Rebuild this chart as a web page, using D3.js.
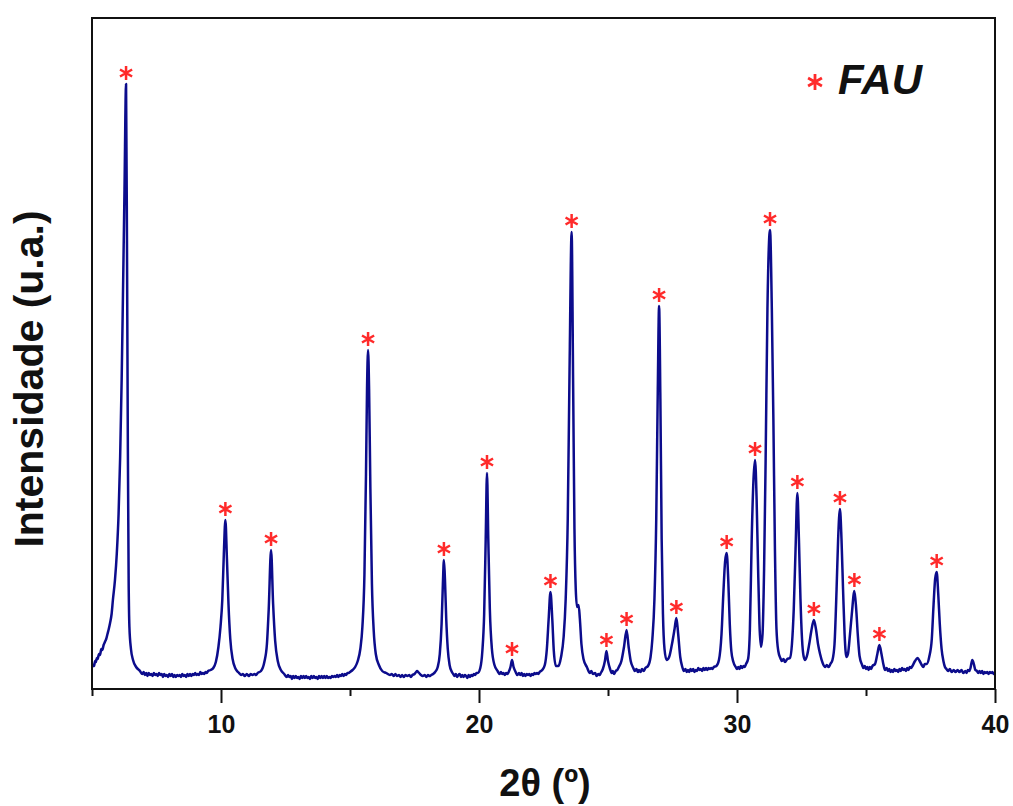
<!DOCTYPE html>
<html>
<head>
<meta charset="utf-8">
<script src="https://cdn.jsdelivr.net/npm/d3@7"></script>
<style>
  html, body { margin: 0; padding: 0; background: #fff; }
  svg { display: block; }
  text { font-family: "Liberation Sans", Arial, sans-serif; }
</style>
</head>
<body>
<svg id="chart" width="1013" height="806"></svg>
<script>
// ---- data (2θ in degrees, intensity in arbitrary units) ----
const pattern = [
[5.00,22],[5.04,24],[5.08,23],[5.12,28],[5.15,27],[5.19,31],[5.22,30],[5.27,35],[5.31,34],[5.36,40],[5.40,39],[5.45,44],[5.50,47],[5.55,50],[5.60,55],[5.65,60],[5.70,66],[5.76,75],[5.81,89],[5.89,109],[5.96,135],[6.03,175],[6.09,231],[6.15,310],[6.20,394],[6.26,500],[6.32,605],[6.36,420],[6.39,240],[6.42,110],[6.45,62],[6.51,40],[6.59,29],[6.71,22],[6.86,18],
[6.95,15],[7.0,17],[7.05,14],[7.1,16],[7.15,13],[7.2,16],[7.25,14],[7.3,15],[7.35,13],[7.4,16],[7.45,14],[7.5,15],[7.55,13],[7.6,16],[7.65,14],[7.7,15],[7.75,12],[7.8,15],[7.85,13],[7.9,14],[7.95,12],[8.0,15],[8.05,13],[8.1,15],[8.15,12],[8.2,14],[8.25,12],[8.3,14],[8.35,13],[8.4,14],[8.45,12],[8.5,15],[8.55,13],[8.6,14],[8.65,12],[8.7,15],[8.75,13],[8.8,15],[8.85,13],[8.9,15],[8.95,14],[9.0,16],[9.05,14],[9.1,15],[9.15,14],[9.2,17],[9.25,15],[9.3,16],[9.35,15],[9.4,17],[9.45,16],[9.5,18],
[9.6,19],[9.7,21],[9.8,27],[9.9,42],[9.98,62],[10.05,89],[10.11,135],[10.17,169],[10.23,130],[10.29,85],[10.36,50],[10.45,30],[10.55,21],[10.62,18],[10.7,16],[10.78,14],[10.85,15],[10.92,13],[11.0,15],[11.08,13],[11.15,15],[11.22,14],[11.3,15],[11.36,14],[11.42,16],
[11.55,18],[11.68,27],[11.78,45],[11.85,80],[11.94,139],[12.02,85],[12.1,48],[12.2,28],[12.32,19],[12.45,15],
[12.55,12],[12.6,14],[12.65,12],[12.7,13],[12.75,10],[12.8,13],[12.85,11],[12.9,13],[12.95,11],[13.0,12],[13.05,10],[13.1,13],[13.15,11],[13.2,13],[13.25,11],[13.3,13],[13.35,11],[13.4,12],[13.45,10],[13.5,13],[13.55,11],[13.6,13],[13.65,11],[13.7,12],[13.75,10],[13.8,13],[13.85,11],[13.9,13],[13.95,11],[14.0,13],[14.05,11],[14.1,13],[14.15,11],[14.2,12],[14.25,11],[14.3,13],[14.35,12],[14.4,13],[14.45,12],[14.5,14],[14.55,12],[14.6,14],[14.65,13],[14.7,15],[14.75,13],[14.8,15],[14.85,14],[14.9,16],[14.95,16],[15.0,17],
[15.1,19],[15.2,22],[15.3,28],[15.4,40],[15.48,62],[15.56,115],[15.62,215],[15.66,300],[15.70,339],[15.74,300],[15.79,200],[15.85,105],[15.92,58],[16.0,35],[16.12,24],[16.25,18],[16.4,16],[16.55,14],
[16.62,15],[16.7,13],[16.76,15],[16.82,13],[16.9,14],[16.96,12],[17.02,14],[17.08,12],[17.15,14],[17.22,13],[17.3,14],[17.36,12],[17.42,14],[17.5,15],[17.56,17],[17.6,18],[17.64,17],[17.68,16],[17.75,14],[17.82,13],[17.9,14],[17.96,12],[18.02,14],[18.08,13],[18.15,14],[18.22,15],
[18.3,17],[18.4,22],[18.48,35],[18.55,65],[18.6,105],[18.64,129],[18.68,110],[18.73,70],[18.79,40],[18.86,24],[18.95,17],[19.0,15],[19.05,13],[19.1,15],[19.15,12],[19.2,14],[19.25,15],[19.3,12],[19.35,14],[19.4,12],[19.45,14],[19.5,13],[19.55,11],[19.6,14],[19.65,12],[19.7,14],[19.75,13],[19.8,15],[19.85,14],[19.9,16],
[19.95,16],[20.05,21],[20.13,38],[20.2,75],[20.26,150],[20.31,216],[20.36,150],[20.42,80],[20.5,40],[20.6,24],[20.72,18],[20.8,15],[20.85,17],[20.9,15],[20.95,16],[21.0,14],[21.05,16],[21.1,15],[21.15,17],[21.22,22],[21.28,29],[21.34,22],[21.42,17],[21.48,14],[21.55,16],[21.6,14],[21.65,16],[21.7,13],[21.75,15],[21.8,13],[21.85,15],[21.9,14],[21.95,15],[22.0,13],[22.05,15],[22.1,14],[22.15,16],[22.2,15],[22.25,16],[22.3,15],[22.35,17],
[22.45,19],[22.55,24],[22.63,40],[22.7,70],[22.77,97],[22.84,70],[22.9,38],[22.98,23],[23.08,23],[23.18,32],[23.28,52],[23.36,90],[23.44,170],[23.51,320],[23.59,457],[23.65,300],[23.7,160],[23.75,100],[23.8,82],[23.86,84],[23.91,70],[23.97,45],[24.05,30],[24.18,22],[24.3,16],[24.35,18],[24.42,15],[24.5,16],[24.56,13],[24.62,15],[24.68,14],[24.72,16],
[24.8,20],[24.88,28],[24.94,38],[25.0,28],[25.08,20],[25.14,16],[25.18,18],[25.24,15],[25.3,18],[25.36,19],[25.42,22],[25.52,28],[25.62,42],[25.72,59],[25.8,42],[25.88,28],[25.98,21],[26.04,18],[26.1,20],[26.16,17],[26.2,19],[26.26,17],[26.32,20],[26.38,18],[26.45,21],
[26.55,23],[26.65,32],[26.72,50],[26.8,90],[26.87,170],[26.93,300],[26.98,383],[27.03,290],[27.08,150],[27.13,75],[27.19,40],[27.27,29],[27.37,32],[27.48,45],[27.58,60],[27.65,71],[27.72,55],[27.8,32],[27.88,22],[27.94,18],[28.0,20],[28.05,17],[28.1,19],[28.15,17],[28.2,20],[28.25,18],[28.3,20],[28.35,17],[28.4,19],[28.45,18],[28.5,21],[28.55,19],[28.6,20],[28.65,18],[28.7,21],[28.75,19],[28.8,21],[28.85,19],[28.9,21],[28.95,20],[29.0,21],[29.05,20],[29.1,22],
[29.2,23],[29.3,29],[29.4,55],[29.47,95],[29.54,128],[29.6,136],[29.66,110],[29.72,65],[29.78,38],[29.86,27],[29.95,22],[30.0,20],[30.05,22],[30.1,20],[30.15,23],[30.2,21],[30.25,23],[30.3,22],[30.35,25],
[30.43,30],[30.5,60],[30.57,150],[30.64,210],[30.7,229],[30.76,190],[30.81,130],[30.87,65],[30.93,42],[30.99,55],[31.05,120],[31.11,230],[31.18,380],[31.28,459],[31.35,380],[31.41,270],[31.47,140],[31.53,60],[31.6,38],[31.68,31],[31.74,28],[31.8,30],[31.86,27],[31.95,30],[32.05,31],[32.13,45],[32.2,80],[32.27,140],[32.34,196],[32.4,150],[32.46,90],[32.52,50],[32.58,33],[32.64,29],[32.72,34],[32.8,45],[32.88,58],[32.98,69],[33.06,60],[33.14,45],[33.22,35],[33.32,26],[33.42,22],[33.48,24],[33.55,22],[33.62,25],[33.7,29],[33.78,45],[33.86,100],[33.92,150],[33.99,180],[34.05,150],[34.11,100],[34.17,55],[34.24,32],[34.3,35],[34.38,55],[34.45,75],[34.55,98],[34.62,80],[34.68,55],[34.75,33],[34.85,24],[34.9,21],[34.95,23],[35.0,20],[35.05,22],[35.1,19],[35.15,22],[35.2,20],[35.25,23],[35.35,25],[35.44,35],[35.52,44],[35.6,35],[35.68,24],[35.74,19],[35.8,21],[35.85,18],[35.9,20],[35.95,17],[36.0,19],[36.05,17],[36.1,20],[36.15,18],[36.2,19],[36.25,17],[36.3,20],[36.35,18],[36.4,21],[36.45,19],[36.5,20],[36.55,18],[36.6,21],[36.65,19],[36.7,22],[36.75,21],[36.8,23],[36.9,28],[37.0,31],[37.08,28],[37.16,24],[37.22,22],[37.28,25],[37.35,25],[37.45,32],
[37.55,50],[37.62,85],[37.68,110],[37.74,117],[37.8,95],[37.86,65],[37.93,40],[38.0,28],[38.06,22],[38.12,20],[38.18,18],[38.25,20],[38.32,17],[38.4,19],[38.47,17],[38.55,19],[38.62,17],[38.7,19],[38.77,16],[38.85,18],[38.9,16],[38.95,19],[39.0,18],[39.05,21],[39.12,29],[39.18,25],[39.24,19],[39.3,18],[39.35,16],[39.4,18],[39.45,16],[39.5,18],[39.55,15],[39.6,17],[39.65,16],[39.7,17],[39.75,15],[39.8,17],[39.85,16],[39.9,17],[39.95,15],[40.0,16]
];

// FAU reflections marked with an asterisk: [2θ, peak intensity]
const fauPeaks = [
[6.32,605],[10.17,169],[11.94,139],[15.70,339],[18.64,129],[20.31,216],[21.28,29],[22.77,97],[23.59,457],[24.94,38],[25.72,59],[26.98,383],[27.65,71],[29.6,136],[30.7,229],[31.28,459],[32.34,196],[32.98,69],[33.99,180],[34.55,98],[35.52,44],[37.74,117]
];

const xMajorTicks = [10, 20, 30, 40];
const xMinorTicks = [5, 15, 25, 35];
const xDomain = [5, 40];
const yDomain = [0, 671];
const legendLabel = "FAU";
const xTitle = "2θ (º)";
const yTitle = "Intensidade (u.a.)";

// ---- drawing ----
const svg = d3.select("#chart");
const L = 92, R = 995, T = 18, B = 689;
const x = d3.scaleLinear().domain(xDomain).range([L, R]);
const y = d3.scaleLinear().domain(yDomain).range([B, T]);

svg.append("rect").attr("width", 1013).attr("height", 806).attr("fill", "#fff");

svg.append("defs").append("clipPath").attr("id", "clip")
  .append("rect").attr("x", L).attr("y", T).attr("width", R - L).attr("height", B - T);

const line = d3.line().x(d => x(d[0])).y(d => y(d[1])).curve(d3.curveMonotoneX);
svg.append("path")
  .datum(pattern)
  .attr("clip-path", "url(#clip)")
  .attr("fill", "none")
  .attr("stroke", "#0c0c8c")
  .attr("stroke-width", 2.5)
  .attr("stroke-linejoin", "round")
  .attr("d", line);

// asterisk marker path
function asteriskPath(r) {
  let p = "";
  for (let k = 0; k < 3; k++) {
    const a = Math.PI / 2 + k * Math.PI / 3;
    const dx = r * Math.cos(a), dy = r * Math.sin(a);
    p += `M${-dx},${-dy}L${dx},${dy}`;
  }
  return p;
}

svg.append("g").selectAll("path")
  .data(fauPeaks)
  .join("path")
  .attr("transform", d => `translate(${x(d[0])},${y(d[1]) - 11})`)
  .attr("d", asteriskPath(7))
  .attr("stroke", "#ff2a2a")
  .attr("stroke-width", 2.5)
  .attr("fill", "none");

// frame
svg.append("rect")
  .attr("x", L).attr("y", T).attr("width", R - L).attr("height", B - T)
  .attr("fill", "none").attr("stroke", "#111").attr("stroke-width", 2);

// x axis (major + minor)
const gMajor = svg.append("g").attr("transform", `translate(0,${B})`)
  .call(d3.axisBottom(x).tickValues(xMajorTicks).tickSize(14).tickFormat(d3.format("d")));
gMajor.select(".domain").remove();
gMajor.selectAll("line").attr("stroke", "#111").attr("stroke-width", 2);
gMajor.selectAll("text")
  .attr("y", 44).attr("dy", null)
  .attr("fill", "#111")
  .style("font-size", "25px").style("font-weight", "bold")
  .style("font-family", "'Liberation Sans', Arial, sans-serif");

const gMinor = svg.append("g").attr("transform", `translate(0,${B})`)
  .call(d3.axisBottom(x).tickValues(xMinorTicks).tickSize(7).tickFormat(""));
gMinor.select(".domain").remove();
gMinor.selectAll("line").attr("stroke", "#111").attr("stroke-width", 2);

// axis titles
svg.append("text")
  .attr("x", 545).attr("y", 796)
  .attr("text-anchor", "middle")
  .attr("fill", "#111")
  .style("font-size", "38px").style("font-weight", "bold")
  .text(xTitle);

svg.append("text")
  .attr("transform", "translate(43,379) rotate(-90)")
  .attr("text-anchor", "middle")
  .attr("fill", "#111")
  .style("font-size", "41px").style("font-weight", "bold")
  .text(yTitle);

// legend
svg.append("path")
  .attr("transform", "translate(815,82)")
  .attr("d", asteriskPath(8))
  .attr("stroke", "#ff2a2a").attr("stroke-width", 2.8).attr("fill", "none");
svg.append("text")
  .attr("x", 838).attr("y", 94)
  .attr("fill", "#111")
  .style("font-size", "42px").style("font-weight", "bold").style("font-style", "italic")
  .text(legendLabel);
</script>
</body>
</html>
